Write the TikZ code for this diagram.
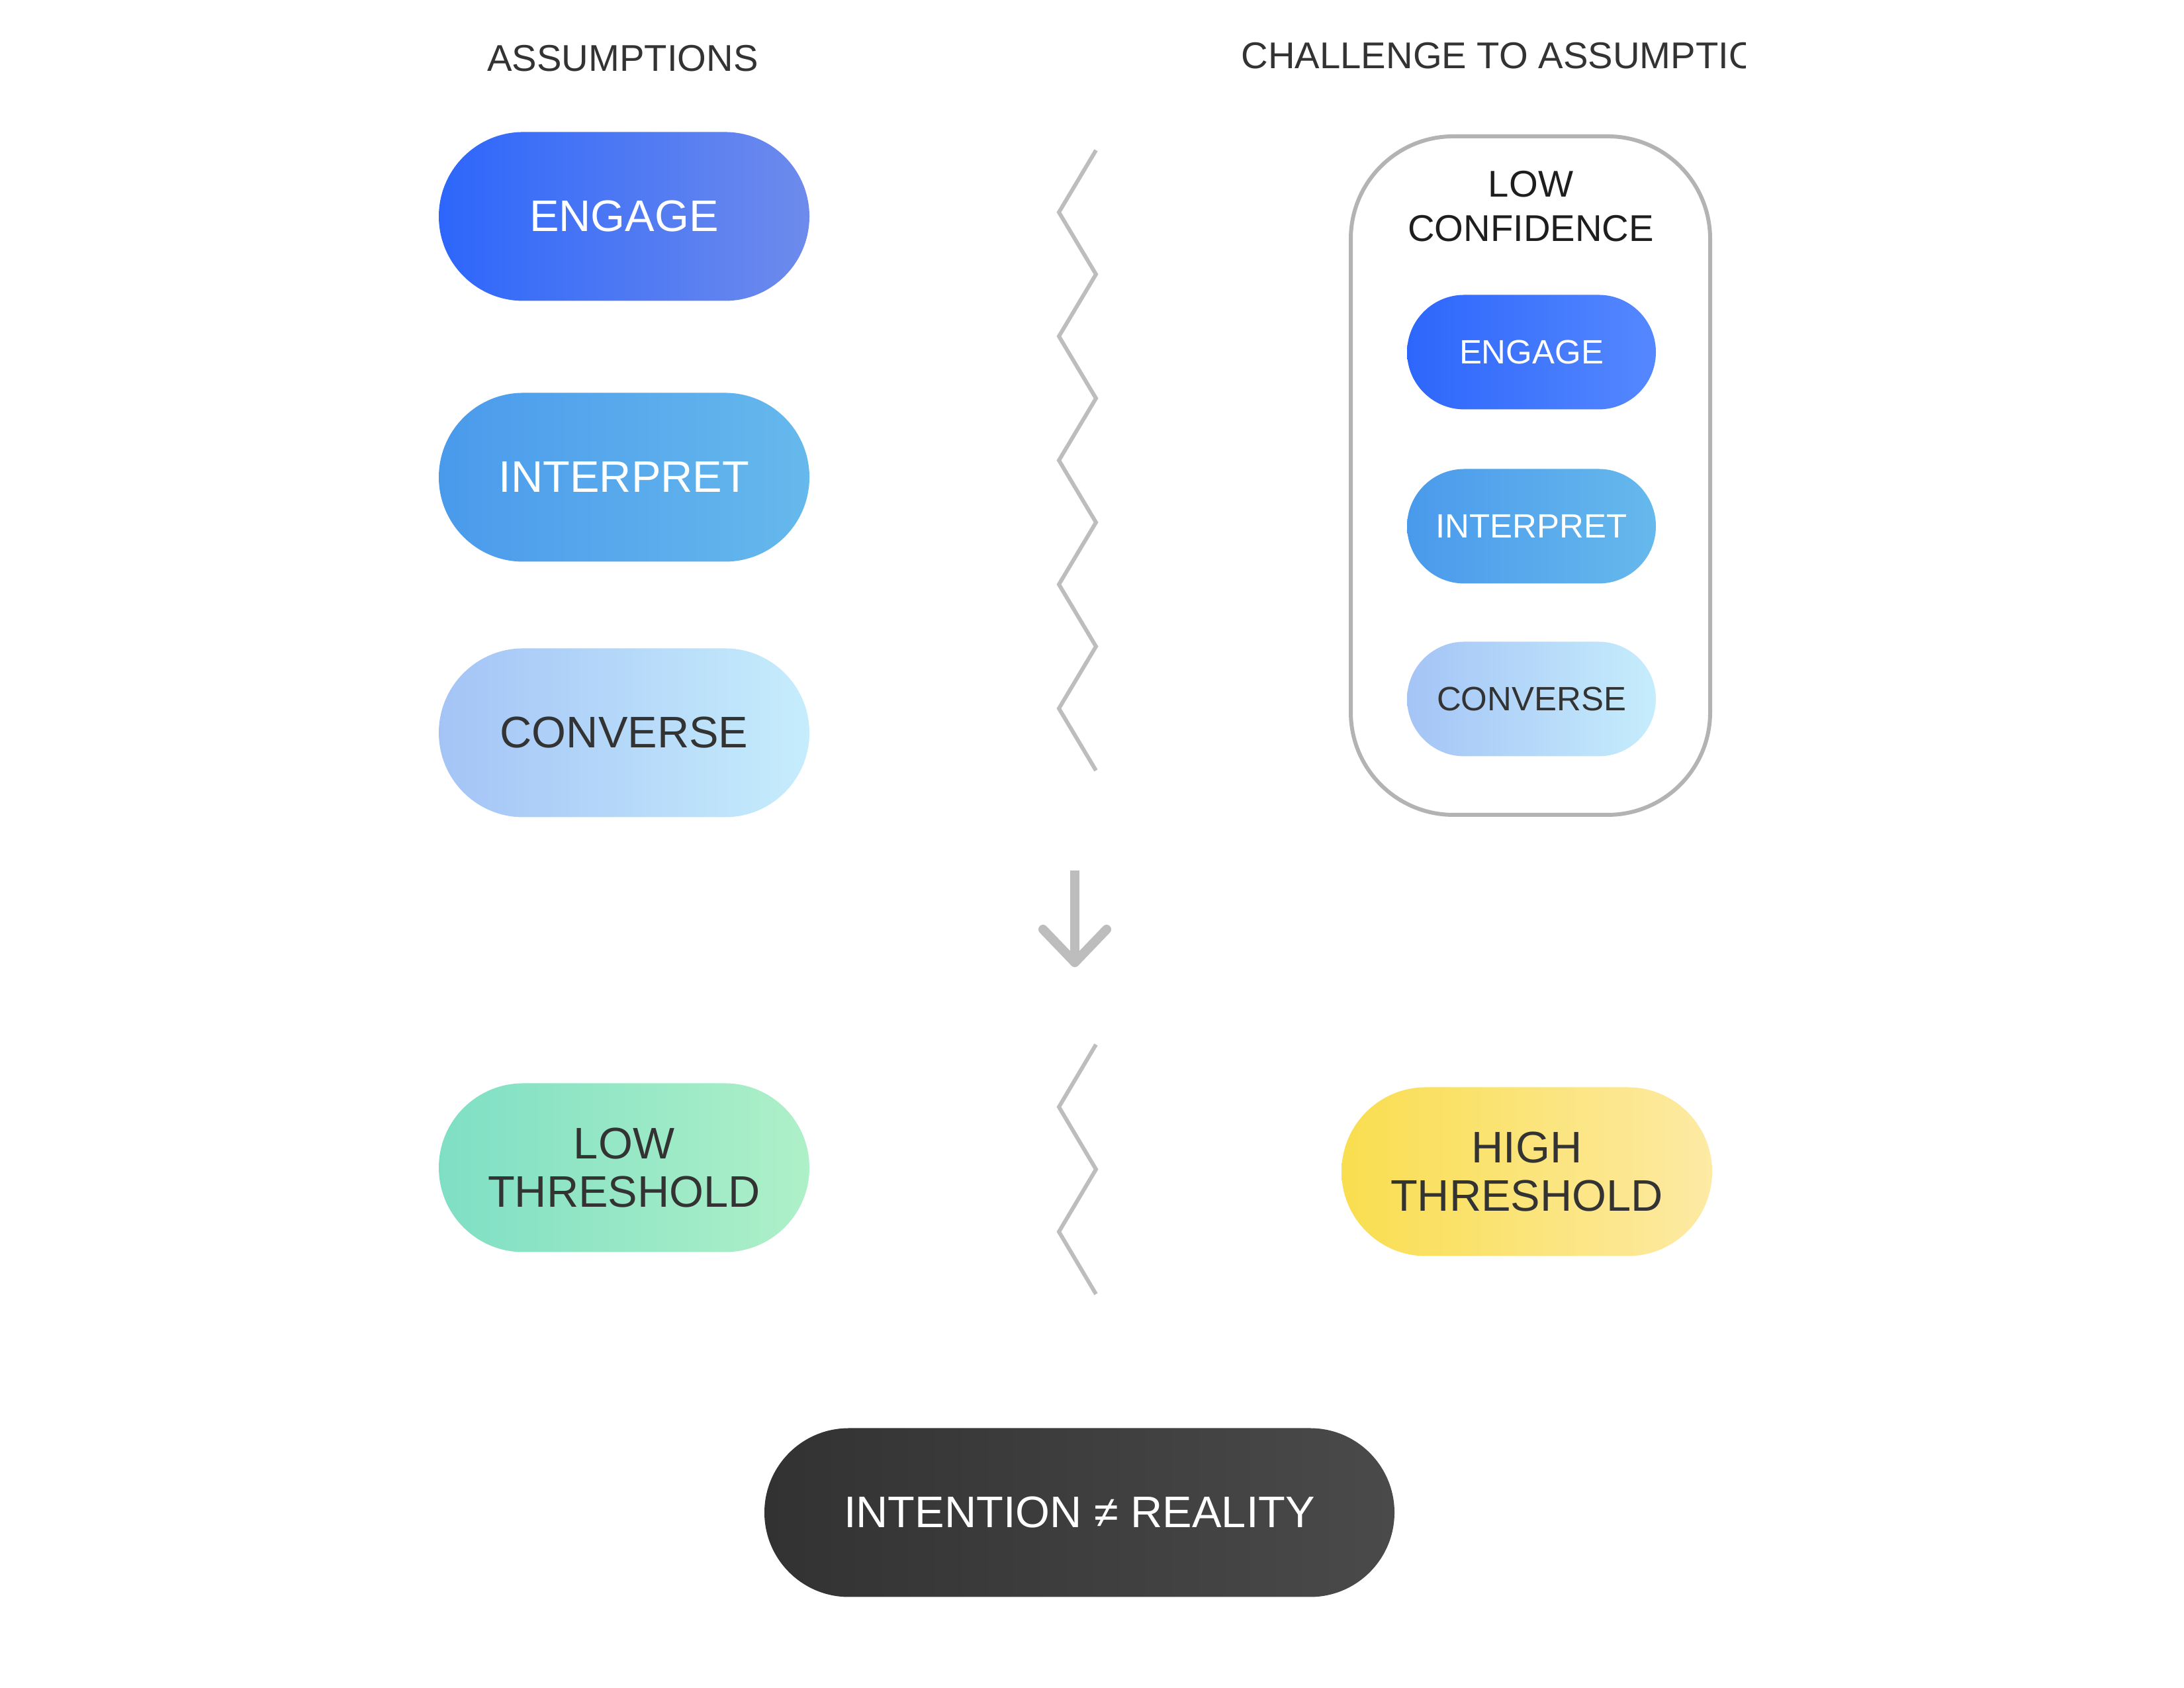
\documentclass[tikz,border=0pt]{standalone}
\usepackage{fontspec}
\setmainfont{Liberation Sans}
\usetikzlibrary{shapes.misc,positioning,calc}
\definecolor{zigcol}{HTML}{BDBDBD}
\definecolor{boxcol}{HTML}{B3B3B3}
\definecolor{txtdark}{HTML}{333333}
\tikzset{
    pill/.style ={rounded rectangle, minimum width = 5.6cm, minimum height = 2.55cm, inner sep=0pt, align=center, font=\fontsize{19}{21}\selectfont},
    minipill/.style ={rounded rectangle, minimum width = 3.76cm, minimum height = 1.73cm, inner sep=0pt, font=\fontsize{14.5}{16}\selectfont},
    engagecol/.style ={left color=blue1, right color=blue2, text=white},
    interpcol/.style ={left color=sky1, right color=sky2, text=white},
    conversecol/.style ={left color=pale1, right color=pale2, text=txtdark},
    zig/.style ={zigcol, line width=1.7pt, line join=miter},
    head/.style ={font=\fontsize{16}{18}\selectfont, text=txtdark}
}
\definecolor{blue1}{HTML}{2D66FB}
\definecolor{blue2}{HTML}{6E8BEC}
\definecolor{sky1}{HTML}{4A9AEC}
\definecolor{sky2}{HTML}{66B9EC}
\definecolor{pale1}{HTML}{A4C4F6}
\definecolor{pale2}{HTML}{C6EDFC}
\begin{document}
\begin{tikzpicture}
	\useasboundingbox (0,0) rectangle (33,25.5);

	% headers
	\node[head] (h1) at (9.41,24.62) {ASSUMPTIONS};
	\begin{scope}
	\clip (18,24) rectangle (26.37,25.3);
	\node[head, anchor=west, inner sep=0pt] (h2) at (18.75,24.66) {CHALLENGE TO ASSUMPTIONS};
	\end{scope}

	% left column
	\node[pill, engagecol] (1) at (9.43,22.23) {ENGAGE};
	\node[pill, interpcol] (2) at (9.43,18.29) {INTERPRET};
	\node[pill, conversecol] (3) at (9.43,14.43) {CONVERSE};
	\node[pill, left color={rgb,255:red,127;green,223;blue,196}, right color={rgb,255:red,174;green,240;blue,200}, text=txtdark] (4) at (9.43,7.86) {LOW\\THRESHOLD};

	% right column
	\draw[boxcol, line width=1.7pt, rounded corners=1.55cm] (20.41,13.19) rectangle (25.84,23.44);
	\node[align=center, text={rgb,255:red,30;green,30;blue,30}, font=\fontsize{16}{19}\selectfont] (lc) at (23.13,22.38) {LOW\\CONFIDENCE};
	\node[minipill, left color=blue1, right color={rgb,255:red,85;green,136;blue,255}, text=white] (5) at (23.14,20.18) {ENGAGE};
	\node[minipill, interpcol] (6) at (23.14,17.55) {INTERPRET};
	\node[minipill, conversecol] (7) at (23.14,14.94) {CONVERSE};
	\node[pill, left color={rgb,255:red,249;green,222;blue,79}, right color={rgb,255:red,253;green,234;blue,164}, text=txtdark] (8) at (23.07,7.80) {HIGH\\THRESHOLD};

	% bottom
	\node[pill, minimum width=9.52cm, left color={rgb,255:red,50;green,50;blue,50}, right color={rgb,255:red,74;green,74;blue,74}, text=white] (9) at (16.31,2.65) {INTENTION ≠ REALITY};

	% zigzags
	\draw[zig] (16.56,23.23) \foreach \i in {1,...,5} {-- ++(-0.56,-0.937) -- ++(0.56,-0.937)};
	\draw[zig] (16.56,9.72) \foreach \i in {1,2} {-- ++(-0.56,-0.9425) -- ++(0.56,-0.9425)};

	% arrow
	\coordinate (atop) at (16.24,12.35);
	\coordinate (atip) at (16.24,10.96);
	\draw[zigcol, line width=4pt] (atop) -- (atip);
	\draw[zigcol, line width=4pt, line cap=round, line join=round] ($(atip)+(-0.48,0.5)$) -- (atip) -- ($(atip)+(0.48,0.5)$);
\end{tikzpicture}
\end{document}
